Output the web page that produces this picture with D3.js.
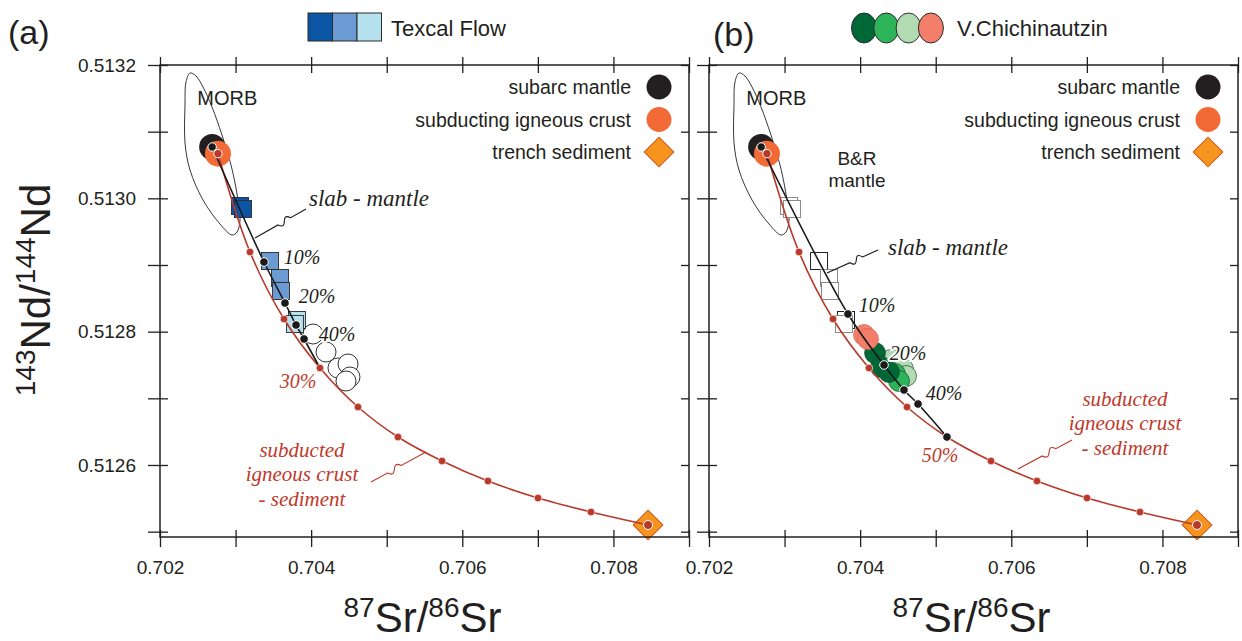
<!DOCTYPE html>
<html><head><meta charset="utf-8">
<script src="https://cdn.jsdelivr.net/npm/d3@7"></script>
<style>body{margin:0;background:#fff}</style>
</head><body>
<svg id="chart" width="1242" height="641"></svg>
<script>
// ---- end-member compositions (87Sr/86Sr, 143Nd/144Nd) ----
const endMemberNames = ["subarc mantle", "subducting igneous crust", "trench sediment"];
const endMemberSr = [0.70269, 0.702767, 0.708458];
const endMemberNd = [0.513077, 0.513067, 0.51251];

// ---- subducted igneous crust - sediment mixing, 0..100 % sediment in 10 % steps ----
const crustSedSr = [0.702767, 0.703191, 0.703641, 0.704117, 0.704620, 0.705149, 0.705732, 0.706340, 0.707002, 0.707703, 0.708458];
const crustSedNd = [0.513067, 0.5129195, 0.512819, 0.5127455, 0.512687, 0.512642, 0.512606, 0.512576, 0.5125505, 0.5125295, 0.51251];

// ---- slab - mantle mixing (a: slab with 30 % sediment, b: slab with 50 % sediment) ----
const slabMantleA_Sr = [0.70269, 0.703376, 0.703654, 0.703800, 0.703906, 0.704117];
const slabMantleA_Nd = [0.513077, 0.5129045, 0.512843, 0.51281, 0.512789, 0.5127455];
const slabMantleB_Sr = [0.70269, 0.703839, 0.704316, 0.704580, 0.704766, 0.705149];
const slabMantleB_Nd = [0.513077, 0.5128265, 0.51275, 0.5127125, 0.5126915, 0.512642];

// ---- Texcal Flow samples ----
const texcalGroup = ["dark", "dark", "mid", "mid", "mid", "light", "light"];
const texcalSr = [0.703059, 0.703098, 0.703456, 0.703588, 0.703601, 0.703813, 0.703786];
const texcalNd = [0.5129885, 0.512984, 0.512906, 0.5128805, 0.512861, 0.5128175, 0.5128115];

// ---- other samples (open circles) ----
const otherSr = [0.704025, 0.704197, 0.704355, 0.704488, 0.704514, 0.704461];
const otherNd = [0.5127965, 0.5127695, 0.5127455, 0.5127515, 0.512732, 0.512726];

// ---- V. Chichinautzin samples ----
const chichGroup = ["light", "light", "light", "mid", "mid", "dark", "dark", "dark", "salmon", "salmon"];
const chichSr = [0.704408, 0.704567, 0.704607, 0.704461, 0.704514, 0.704197, 0.704276, 0.704382, 0.704051, 0.704104];
const chichNd = [0.5127575, 0.512744, 0.5127335, 0.5127365, 0.512726, 0.512768, 0.512747, 0.5127395, 0.512795, 0.512789];

// ---- MORB field outline ----
const morbSr = [0.702397, 0.702476, 0.702569, 0.702688, 0.702820, 0.702940, 0.703032, 0.703059, 0.703019, 0.702953, 0.702794, 0.702569, 0.702397, 0.702331, 0.702331, 0.702344];
const morbNd = [0.513188, 0.5131835, 0.513167, 0.513137, 0.513095, 0.51305, 0.5129975, 0.5129675, 0.5129495, 0.512945, 0.5129615, 0.5129975, 0.5130425, 0.513083, 0.51314, 0.5131745];

// ---- ticks ----
const xTicks = [0.702, 0.703, 0.704, 0.705, 0.706, 0.707, 0.708, 0.709];
const xTickLabels = [0.702, 0.704, 0.706, 0.708];
const yTicks = [0.5125, 0.5126, 0.5127, 0.5128, 0.5129, 0.5130, 0.5131, 0.5132];
const yTickLabels = [0.5126, 0.5128, 0.5130, 0.5132];

const zip = (a, b) => a.map((v, i) => [v, b[i]]);

const C = {
  ink: "#231f20",
  red: "#b8392a",
  redText: "#c0392b",
  mantle: "#231f20",
  crust: "#f26a36",
  sed: "#f7941d",
  sedStroke: "#c8561e",
  texcal: {dark: "#0c55a4", mid: "#6b9bd2", light: "#b5e1ef"},
  chich: {dark: "#006837", mid: "#2db35a", light: "#b2dbb3", salmon: "#f37f6b"}
};
const SANS = "'Liberation Sans', Arial, Helvetica, sans-serif";
const SERIF = "'Liberation Serif', 'Times New Roman', serif";

const svg = d3.select("#chart");
const y = d3.scaleLinear().domain([0.512492, 0.5132]).range([537, 65]);

const panels = [
  {key: "a", x: d3.scaleLinear().domain([0.702, 0.709]).range([160, 689])},
  {key: "b", x: d3.scaleLinear().domain([0.702, 0.709]).range([709, 1238])}
];

// leader line with a small "~" break
function squiggle(p0, p1) {
  const dx = p1[0] - p0[0], dy = p1[1] - p0[1];
  const len = Math.hypot(dx, dy), ux = dx / len, uy = dy / len;
  const nx = -uy, ny = ux, amp = 11;
  const a = [p0[0] + ux * len * 0.3, p0[1] + uy * len * 0.3];
  const b = [p0[0] + ux * len * 0.55, p0[1] + uy * len * 0.55];
  const c1 = [a[0] + nx * amp + ux * 8, a[1] + ny * amp + uy * 8];
  const c2 = [b[0] - nx * amp - ux * 8, b[1] - ny * amp - uy * 8];
  return `M${p0}L${a}C${c1} ${c2} ${b}L${p1}`;
}

panels.forEach(p => {
  const x = p.x;
  const g = svg.append("g");
  const pt = (sr, nd) => [x(sr), y(nd)];

  // MORB field
  g.append("path")
    .attr("d", d3.line().x(d => x(d[0])).y(d => y(d[1])).curve(d3.curveCatmullRomClosed)(zip(morbSr, morbNd)))
    .attr("fill", "none").attr("stroke", C.ink).attr("stroke-width", 0.9);

  // end-member symbols
  g.append("circle").attr("cx", x(endMemberSr[0])).attr("cy", y(endMemberNd[0])).attr("r", 13).attr("fill", C.mantle);
  g.append("circle").attr("cx", x(endMemberSr[1])).attr("cy", y(endMemberNd[1])).attr("r", 13).attr("fill", C.crust);
  g.append("path")
    .attr("d", d3.symbol(d3.symbolSquare, 21 * 21)())
    .attr("transform", `translate(${x(endMemberSr[2])},${y(endMemberNd[2])}) rotate(45)`)
    .attr("fill", C.sed).attr("stroke", C.sedStroke).attr("stroke-width", 1);

  // samples
  const side = 17;
  if (p.key === "a") {
    g.selectAll("circle.other").data(zip(otherSr, otherNd)).join("circle")
      .attr("cx", d => x(d[0])).attr("cy", d => y(d[1])).attr("r", 10)
      .attr("fill", "#fff").attr("stroke", "#333").attr("stroke-width", 1);
    g.selectAll("rect.tx").data(texcalSr.map((s, i) => ({s, n: texcalNd[i], grp: texcalGroup[i]}))).join("rect")
      .attr("x", d => x(d.s) - side / 2).attr("y", d => y(d.n) - side / 2)
      .attr("width", side).attr("height", side)
      .attr("fill", d => C.texcal[d.grp]).attr("stroke", "#2b2b2b").attr("stroke-width", 0.9);
  } else {
    g.selectAll("rect.tx").data(texcalSr.map((s, i) => ({s, n: texcalNd[i], grp: texcalGroup[i]}))).join("rect")
      .attr("x", d => x(d.s) - side / 2).attr("y", d => y(d.n) - side / 2)
      .attr("width", side).attr("height", side)
      .attr("fill", "#fff").attr("stroke", (d, i) => (i === 2 || i === 5) ? "#222" : "#8a8a8a").attr("stroke-width", 1);
    g.selectAll("circle.ch").data(chichSr.map((s, i) => ({s, n: chichNd[i], grp: chichGroup[i]}))).join("circle")
      .attr("cx", d => x(d.s)).attr("cy", d => y(d.n)).attr("r", 10.5)
      .attr("fill", d => C.chich[d.grp]).attr("stroke", d => d.grp === "salmon" ? "#d9604e" : "#1f4d30").attr("stroke-width", 0.7);
  }

  // mixing curves
  const curve = d3.line().x(d => x(d[0])).y(d => y(d[1])).curve(d3.curveCatmullRom);
  const cs = zip(crustSedSr, crustSedNd);
  g.append("path").attr("d", curve(cs)).attr("fill", "none").attr("stroke", C.red).attr("stroke-width", 1.6);
  const sm = p.key === "a" ? zip(slabMantleA_Sr, slabMantleA_Nd) : zip(slabMantleB_Sr, slabMantleB_Nd);
  g.append("path").attr("d", curve(sm)).attr("fill", "none").attr("stroke", "#1a1a1a").attr("stroke-width", 1.6);

  // tick dots along the curves
  g.selectAll("circle.rd").data(cs.slice(1, -1)).join("circle")
    .attr("cx", d => x(d[0])).attr("cy", d => y(d[1])).attr("r", 3.8)
    .attr("fill", C.red).attr("stroke", "#fff").attr("stroke-width", 0.6);
  const smDots = p.key === "a" ? sm.slice(1, -1) : sm.slice(1);
  g.selectAll("circle.bd").data(smDots).join("circle")
    .attr("cx", d => x(d[0])).attr("cy", d => y(d[1])).attr("r", 4.3)
    .attr("fill", "#1a1a1a").attr("stroke", "#fff").attr("stroke-width", 1);

  // end-member centre dots
  g.append("circle").attr("cx", x(endMemberSr[0])).attr("cy", y(endMemberNd[0])).attr("r", 4.2)
    .attr("fill", "#1a1a1a").attr("stroke", "#fff").attr("stroke-width", 1);
  g.append("circle").attr("cx", x(endMemberSr[1])).attr("cy", y(endMemberNd[1])).attr("r", 4.2)
    .attr("fill", C.red).attr("stroke", "#fff").attr("stroke-width", 1);
  g.append("circle").attr("cx", x(endMemberSr[2])).attr("cy", y(endMemberNd[2])).attr("r", 4.5)
    .attr("fill", C.red).attr("stroke", "#fff").attr("stroke-width", 1);

  // ---- annotations ----
  const text = (s, pos, opts) => g.append("text").attr("x", pos[0]).attr("y", pos[1])
    .attr("text-anchor", "middle").attr("dominant-baseline", "central")
    .style("font-family", opts.serif ? SERIF : SANS).style("font-style", opts.serif ? "italic" : "normal")
    .style("font-size", opts.size + "px").attr("fill", opts.color || C.ink)
    .attr("stroke", opts.halo ? "#fff" : null).attr("stroke-width", opts.halo ? 3.5 : null)
    .attr("paint-order", "stroke").text(s);

  // stacked multi-line label in one text element
  const block = (lines, pos, opts) => {
    const t = g.append("text").attr("text-anchor", "middle")
      .style("font-family", opts.serif ? SERIF : SANS).style("font-style", opts.serif ? "italic" : "normal")
      .style("font-size", opts.size + "px").attr("fill", opts.color || C.ink);
    const top = pos[1] - (lines.length - 1) * opts.lh / 2;
    lines.forEach((s, i) => t.append("tspan").attr("x", pos[0]).attr("y", top + i * opts.lh)
      .attr("dominant-baseline", "central").text(s));
  };

  text("MORB", pt(0.70289, 0.51315), {size: 20});

  if (p.key === "a") {
    text("slab - mantle", pt(0.704766, 0.513), {serif: true, size: 23});
    g.append("path").attr("d", squiggle(pt(0.703932, 0.512984), pt(0.703257, 0.5129405)))
      .attr("fill", "none").attr("stroke", "#1a1a1a").attr("stroke-width", 1.1);
    text("10%", pt(0.703879, 0.512912), {serif: true, size: 20, halo: true});
    text("20%", pt(0.704078, 0.5128535), {serif: true, size: 20, halo: true});
    text("40%", pt(0.704342, 0.5127965), {serif: true, size: 20, halo: true});
    text("30%", pt(0.703826, 0.512726), {serif: true, size: 20, color: C.redText});
    block(["subducted", "igneous crust", "- sediment"], pt(0.703879, 0.5125865),
      {serif: true, size: 21, lh: 24.5, color: C.redText});
    g.append("path").attr("d", squiggle(pt(0.704792, 0.5125745), pt(0.70552, 0.5126195)))
      .attr("fill", "none").attr("stroke", C.red).attr("stroke-width", 1.1);
  } else {
    block(["B&R", "mantle"], pt(0.703958, 0.513044), {size: 19, lh: 22});
    text("slab - mantle", pt(0.705163, 0.512927), {serif: true, size: 23});
    g.append("path").attr("d", squiggle(pt(0.704236, 0.5129225), pt(0.703561, 0.512888)))
      .attr("fill", "none").attr("stroke", "#1a1a1a").attr("stroke-width", 1.1);
    text("10%", pt(0.704223, 0.51284), {serif: true, size: 20, halo: true});
    text("20%", pt(0.704633, 0.512768), {serif: true, size: 20, halo: true});
    text("40%", pt(0.70511, 0.512708), {serif: true, size: 20, halo: true});
    text("50%", pt(0.705057, 0.512615), {serif: true, size: 20, color: C.redText});
    block(["subducted", "igneous crust", "- sediment"], pt(0.707505, 0.512663),
      {serif: true, size: 21, lh: 24.5, color: C.redText});
    g.append("path").attr("d", squiggle(pt(0.706804, 0.5126375), pt(0.706089, 0.512594)))
      .attr("fill", "none").attr("stroke", C.red).attr("stroke-width", 1.1);
  }

  // ---- end-member key inside the panel ----
  const right = x.range()[1];
  endMemberNames.forEach((name, i) => {
    const ky = 87 + i * 32.5;
    g.append("text").attr("x", right - 58).attr("y", ky).attr("text-anchor", "end")
      .attr("dominant-baseline", "central").style("font-family", SANS).style("font-size", "19.5px")
      .attr("fill", C.ink).text(name);
    if (i === 0) g.append("circle").attr("cx", right - 30).attr("cy", ky).attr("r", 12.5).attr("fill", C.mantle);
    if (i === 1) g.append("circle").attr("cx", right - 30).attr("cy", ky).attr("r", 12.5).attr("fill", C.crust);
    if (i === 2) g.append("path").attr("d", d3.symbol(d3.symbolSquare, 21 * 21)())
      .attr("transform", `translate(${right - 30},${ky}) rotate(45)`)
      .attr("fill", C.sed).attr("stroke", C.sedStroke).attr("stroke-width", 1);
  });

  // ---- frame and axes ----
  const [x0, x1] = x.range();
  const [yb, yt] = y.range();
  const fmtX = d => xTickLabels.some(v => Math.abs(v - d) < 1e-9) ? d3.format(".3f")(d) : "";
  const fmtY = d => (p.key === "a" && yTickLabels.some(v => Math.abs(v - d) < 1e-9)) ? d3.format(".4f")(d) : "";

  const axB = g.append("g").attr("transform", `translate(0,${yb})`)
    .call(d3.axisBottom(x).tickValues(xTicks).tickSize(10).tickPadding(14).tickFormat(fmtX));
  axB.selectAll(".tick line").attr("y1", -7);
  const axT = g.append("g").attr("transform", `translate(0,${yt})`)
    .call(d3.axisTop(x).tickValues(xTicks).tickSize(8).tickFormat(""));
  axT.selectAll(".tick line").attr("y1", 8);
  const axL = g.append("g").attr("transform", `translate(${x0},0)`)
    .call(d3.axisLeft(y).tickValues(yTicks).tickSize(12).tickPadding(12).tickFormat(fmtY));
  axL.selectAll(".tick line").attr("x1", 8);
  const axR = g.append("g").attr("transform", `translate(${x1},0)`)
    .call(d3.axisRight(y).tickValues(yTicks).tickSize(0).tickFormat(""));
  axR.selectAll(".tick line").attr("x1", -8).attr("x2", 0);

  [axB, axT, axL, axR].forEach(a => {
    a.select(".domain").remove();
    a.selectAll(".tick line").attr("stroke", C.ink).attr("stroke-width", 1.3);
    a.selectAll(".tick text").style("font-family", SANS).style("font-size", "19px").attr("fill", C.ink);
  });
  g.append("rect").attr("x", x0).attr("y", yt).attr("width", x1 - x0).attr("height", yb - yt)
    .attr("fill", "none").attr("stroke", C.ink).attr("stroke-width", 1.5);

  // x-axis title
  const xt = g.append("text").attr("x", (x0 + x1) / 2 - 2).attr("y", 632).attr("text-anchor", "middle")
    .style("font-family", SANS).style("font-size", "42px").attr("fill", C.ink);
  xt.append("tspan").style("font-size", "28px").attr("dy", -15).text("87");
  xt.append("tspan").attr("dy", 15).text("Sr/");
  xt.append("tspan").style("font-size", "28px").attr("dy", -15).text("86");
  xt.append("tspan").attr("dy", 15).text("Sr");
});

// y-axis title
const yt = svg.append("text").attr("transform", "translate(50,290) rotate(-90)").attr("text-anchor", "middle")
  .style("font-family", SANS).style("font-size", "42px").attr("fill", C.ink);
yt.append("tspan").style("font-size", "28px").attr("dy", -15).text("143");
yt.append("tspan").attr("dy", 15).text("Nd/");
yt.append("tspan").style("font-size", "28px").attr("dy", -15).text("144");
yt.append("tspan").attr("dy", 15).text("Nd");

// panel letters
svg.append("text").attr("x", 8).attr("y", 44).style("font-family", SANS).style("font-size", "34px").attr("fill", C.ink).text("(a)");
svg.append("text").attr("x", 713).attr("y", 46).style("font-family", SANS).style("font-size", "34px").attr("fill", C.ink).text("(b)");

// Texcal Flow key
const texKeys = ["dark", "mid", "light"];
svg.selectAll("rect.key").data(texKeys).join("rect")
  .attr("x", (d, i) => 308 + i * 24.5).attr("y", 13).attr("width", 24.5).attr("height", 28)
  .attr("fill", d => C.texcal[d]).attr("stroke", "#2b2b2b").attr("stroke-width", 1);
svg.append("text").attr("x", 391).attr("y", 28).attr("dominant-baseline", "central")
  .style("font-family", SANS).style("font-size", "22px").attr("fill", C.ink).text("Texcal Flow");

// V. Chichinautzin key
const chKeys = ["dark", "mid", "light", "salmon"];
svg.selectAll("ellipse.key").data(chKeys).join("ellipse")
  .attr("cx", (d, i) => 864 + i * 22.3).attr("cy", 28).attr("rx", 12.5).attr("ry", 15)
  .attr("fill", d => C.chich[d]).attr("stroke", "#2b2b2b").attr("stroke-width", 1);
svg.append("text").attr("x", 957).attr("y", 28).attr("dominant-baseline", "central")
  .style("font-family", SANS).style("font-size", "22px").attr("fill", C.ink).text("V.Chichinautzin");
</script>
</body></html>
